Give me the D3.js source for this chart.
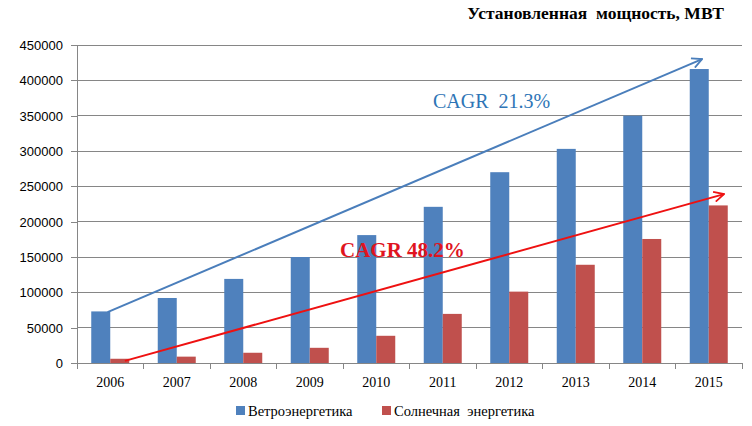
<!DOCTYPE html>
<html>
<head>
<meta charset="utf-8">
<script src="https://cdn.jsdelivr.net/npm/d3@7"></script>
<style>
body { margin: 0; background: #fff; }
svg { display: block; }
</style>
</head>
<body>
<div id="chart"></div>
<script>
let years = ["2006", "2007", "2008", "2009", "2010", "2011", "2012", "2013", "2014", "2015"];
let wind = [73000, 92000, 119000, 150000, 181000, 221000, 270000, 303000, 350000, 416000];
let solar = [6000, 9000, 14500, 21500, 38500, 69500, 101000, 139000, 175500, 223000];
let series_names = ["Ветроэнергетика", "Солнечная  энергетика"];
let y_ticks = [0, 50000, 100000, 150000, 200000, 250000, 300000, 350000, 400000, 450000];
// arrow ends: [year index, position in band, value]
let wind_arrow = [[0, 0.46, 72000], [9, 0.4, 430000]];
let solar_arrow = [[0, 0.72, 3000], [9, 0.73, 239000]];

let width = 752, height = 426;
let plot_left = 77, plot_right = 742, plot_top = 45, plot_bottom = 363;

let svg = d3.select("#chart").append("svg")
    .attr("width", width)
    .attr("height", height);

let x = d3.scaleBand().domain(years).range([plot_left, plot_right]).paddingInner(0).paddingOuter(0);
let y = d3.scaleLinear().domain([0, 450000]).range([plot_bottom, plot_top]);
let bw = 19;
let pad = (x.bandwidth() - 2 * bw) / 2;

// gridlines
svg.append("g")
    .selectAll("line")
    .data(y_ticks.slice(1))
    .join("line")
    .attr("x1", plot_left).attr("x2", plot_right)
    .attr("y1", d => y(d)).attr("y2", d => y(d))
    .attr("stroke", "#868686").attr("stroke-width", 1)
    .attr("shape-rendering", "crispEdges");

// y axis
let yAxis = svg.append("g")
    .attr("transform", `translate(${plot_left},0)`)
    .call(d3.axisLeft(y).tickValues(y_ticks).tickSize(6).tickPadding(8).tickFormat(d3.format("d")));
yAxis.selectAll("line, path").attr("stroke", "#868686").attr("shape-rendering", "crispEdges");
yAxis.select(".domain").attr("d", `M-6,${plot_top}H0V${plot_bottom}`);
yAxis.selectAll("text")
    .style("font", "13px 'Liberation Sans', Arial, sans-serif")
    .attr("fill", "#000")
    .attr("dy", "0.35em");

// bars
svg.append("g")
    .selectAll("rect")
    .data(wind)
    .join("rect")
    .attr("x", (d, i) => x(years[i]) + pad)
    .attr("y", d => y(d))
    .attr("width", bw)
    .attr("height", d => plot_bottom - y(d))
    .attr("fill", "#4f81bd");

svg.append("g")
    .selectAll("rect")
    .data(solar)
    .join("rect")
    .attr("x", (d, i) => x(years[i]) + pad + bw)
    .attr("y", d => y(d))
    .attr("width", bw)
    .attr("height", d => plot_bottom - y(d))
    .attr("fill", "#c0504d");

// x axis
let xAxisG = svg.append("g").attr("transform", `translate(0,${plot_bottom})`);
xAxisG.append("line")
    .attr("x1", plot_left).attr("x2", plot_right)
    .attr("y1", 0).attr("y2", 0)
    .attr("stroke", "#868686").attr("shape-rendering", "crispEdges");
xAxisG.selectAll(".tk")
    .data(years.concat(["end"]))
    .join("line")
    .attr("x1", (d, i) => plot_left + i * x.bandwidth())
    .attr("x2", (d, i) => plot_left + i * x.bandwidth())
    .attr("y1", 0).attr("y2", 6)
    .attr("stroke", "#868686").attr("shape-rendering", "crispEdges");
xAxisG.selectAll("text")
    .data(years)
    .join("text")
    .attr("x", d => x(d) + x.bandwidth() / 2)
    .attr("y", 24)
    .attr("text-anchor", "middle")
    .style("font", "14px 'Liberation Serif', 'Times New Roman', serif")
    .text(d => d);

// arrows
let defs = svg.append("defs");
function arrow_marker(id, color) {
    defs.append("marker")
        .attr("id", id)
        .attr("viewBox", "0 0 12 12")
        .attr("refX", 11).attr("refY", 6)
        .attr("markerWidth", 12).attr("markerHeight", 12)
        .attr("markerUnits", "userSpaceOnUse")
        .attr("orient", "auto")
        .append("path")
        .attr("d", "M1,1L11,6L1,11")
        .attr("fill", "none")
        .attr("stroke", color)
        .attr("stroke-width", 1.8);
}
arrow_marker("arrBlue", "#4a7ebb");
arrow_marker("arrRed", "#ee1111");

function draw_arrow(pts, color, id) {
    let p = pts.map(d => [x(years[d[0]]) + d[1] * x.bandwidth(), y(d[2])]);
    svg.append("line")
        .attr("x1", p[0][0]).attr("y1", p[0][1])
        .attr("x2", p[1][0]).attr("y2", p[1][1])
        .attr("stroke", color)
        .attr("stroke-width", 2)
        .attr("marker-end", `url(#${id})`);
}
draw_arrow(wind_arrow, "#4a7ebb", "arrBlue");
draw_arrow(solar_arrow, "#ee1111", "arrRed");

// annotations
svg.append("text")
    .attr("x", 433).attr("y", 108)
    .style("font", "20px 'Liberation Serif', 'Times New Roman', serif")
    .style("white-space", "pre")
    .attr("fill", "#2e75b6")
    .text("CAGR  21.3%");
svg.append("text")
    .attr("x", 340).attr("y", 257)
    .style("font", "bold 21px 'Liberation Serif', 'Times New Roman', serif")
    .attr("fill", "#e0141e")
    .text("CAGR 48.2%");

// title
svg.append("text")
    .attr("x", 724).attr("y", 19)
    .attr("text-anchor", "end")
    .style("font", "bold 17.5px 'Liberation Serif', 'Times New Roman', serif")
    .style("white-space", "pre")
    .text("Установленная  мощность, МВТ");

// legend
let legend = svg.append("g");
let lx = [236, 382];
legend.selectAll("rect")
    .data(series_names)
    .join("rect")
    .attr("x", (d, i) => lx[i]).attr("y", 406)
    .attr("width", 9).attr("height", 9)
    .attr("fill", (d, i) => i == 0 ? "#4f81bd" : "#c0504d");
legend.selectAll("text")
    .data(series_names)
    .join("text")
    .attr("x", (d, i) => lx[i] + 12).attr("y", 416)
    .style("font", "14.5px 'Liberation Serif', 'Times New Roman', serif")
    .style("white-space", "pre")
    .text(d => d);
</script>
</body>
</html>
